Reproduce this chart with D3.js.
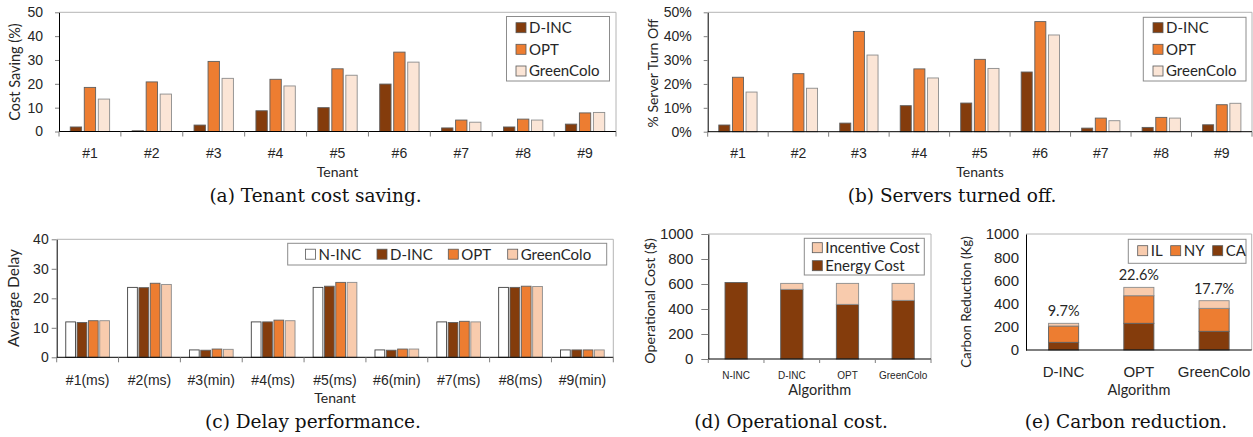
<!DOCTYPE html>
<html>
<head>
<meta charset="utf-8">
<script src="https://cdn.jsdelivr.net/npm/d3@7"></script>
<style>
  body { margin: 0; background: #fff; }
  svg { display: block; font-family: Lato, "Open Sans", sans-serif; }
</style>
</head>
<body>
<svg id="chart" width="1253" height="437"></svg>
<script>
// ---- data ----
const tenants = ['#1', '#2', '#3', '#4', '#5', '#6', '#7', '#8', '#9'];

// (a) tenant cost saving, %
const savingDinc  = [1.9, 0.3, 2.7, 8.7, 10.0, 19.9, 1.5, 1.9, 3.1];
const savingOpt   = [18.5, 20.8, 29.4, 21.9, 26.3, 33.3, 4.8, 5.2, 7.8];
const savingGreen = [13.6, 15.7, 22.3, 19.1, 23.6, 29.1, 3.9, 4.8, 8.0];

// (b) servers turned off, %
const offDinc  = [2.8, 0, 3.6, 10.9, 12.0, 25.0, 1.5, 1.8, 2.9];
const offOpt   = [22.8, 24.3, 42.0, 26.3, 30.3, 46.1, 5.7, 6.0, 11.3];
const offGreen = [16.6, 18.2, 32.1, 22.5, 26.5, 40.5, 4.6, 5.7, 11.9];

// (c) average delay
const delayTenants = ['#1(ms)', '#2(ms)', '#3(min)', '#4(ms)', '#5(ms)', '#6(min)', '#7(ms)', '#8(ms)', '#9(min)'];
const delayNinc  = [12.0, 23.7, 2.5, 12.0, 23.7, 2.5, 12.0, 23.7, 2.5];
const delayDinc  = [11.8, 23.6, 2.4, 12.0, 24.1, 2.4, 11.8, 23.7, 2.5];
const delayOpt   = [12.4, 25.1, 2.8, 12.6, 25.4, 2.8, 12.2, 24.1, 2.5];
const delayGreen = [12.4, 24.7, 2.7, 12.4, 25.4, 2.8, 12.0, 24.0, 2.5];

// (d) operational cost, $
const costAlgos = ['N-INC', 'D-INC', 'OPT', 'GreenColo'];
const energyCost    = [612, 557, 437, 469];
const incentiveCost = [0, 48, 168, 136];

// (e) carbon reduction, kg
const carbonAlgos = ['D-INC', 'OPT', 'GreenColo'];
const carbonCA = [66, 230, 161];
const carbonNY = [141, 238, 198];
const carbonIL = [23, 72, 66];
const carbonPct = ['9.7%', '22.6%', '17.7%'];

const DARK = '#843C0C', ORANGE = '#ED7D31', PALE = '#FBE5D6', PEACH = '#F8CBAD';
const TXT = '#262626', BAR_STROKE = '#5f5f5f';

const svg = d3.select('#chart');

function plotFrame(left, right, top, bottom) {
  svg.append('path')
    .attr('d', `M${left},${top}H${right}V${bottom}`)
    .attr('fill', 'none')
    .attr('stroke', '#b4b4b4')
    .attr('stroke-width', 1);
}

function yAxis(y, left, ticks, o) {
  const g = svg.append('g')
    .attr('transform', `translate(${left},0)`)
    .call(d3.axisLeft(y).tickValues(ticks).tickSizeInner(o.tick).tickSizeOuter(0)
      .tickPadding(o.pad).tickFormat(o.fmt || (d => d)));
  g.select('.domain').attr('stroke', '#000');
  g.selectAll('.tick line').attr('stroke', '#7f7f7f');
  g.selectAll('text').attr('font-size', o.font).attr('fill', TXT).attr('font-family', null);
}

function xLabels(x, bottom, o) {
  const g = svg.append('g')
    .attr('transform', `translate(0,${bottom})`)
    .call(d3.axisBottom(x).tickSize(0).tickPadding(o.pad));
  g.select('.domain').remove();
  g.selectAll('text').attr('font-size', o.font).attr('fill', TXT).attr('font-family', null);
}

function axisLineBottom(left, right, bottom, x, tickLen) {
  svg.append('line')
    .attr('x1', left).attr('x2', right).attr('y1', bottom).attr('y2', bottom)
    .attr('stroke', '#000');
  if (tickLen > 0) {
    svg.append('g').selectAll('line')
      .data(d3.range(x.domain().length + 1))
      .join('line')
      .attr('x1', i => left + i * x.step()).attr('x2', i => left + i * x.step())
      .attr('y1', bottom).attr('y2', bottom + tickLen)
      .attr('stroke', '#7f7f7f');
  }
}

function title(text, x, y, size, rotate) {
  svg.append('text')
    .attr('transform', `translate(${x},${y})` + (rotate ? ' rotate(-90)' : ''))
    .attr('text-anchor', 'middle')
    .attr('dy', rotate ? '0.35em' : 0)
    .attr('font-size', size)
    .attr('fill', TXT)
    .text(text);
}

function caption(text, x, y) {
  svg.append('text')
    .attr('x', x).attr('y', y)
    .attr('text-anchor', 'middle')
    .attr('font-family', '"DejaVu Serif", serif')
    .attr('font-size', 18.5)
    .attr('fill', '#111')
    .text(text);
}

function legend(box, items, font) {
  svg.append('rect')
    .attr('x', box.x).attr('y', box.y).attr('width', box.w).attr('height', box.h)
    .attr('fill', '#fff').attr('stroke', '#8c8c8c');
  const g = svg.append('g').selectAll('g').data(items).join('g')
    .attr('transform', d => `translate(${d.x},${d.y})`);
  g.append('rect')
    .attr('x', 0).attr('y', -5).attr('width', 10).attr('height', 10)
    .attr('fill', d => d.color).attr('stroke', '#595959').attr('stroke-width', 0.8);
  g.append('text')
    .attr('x', 13).attr('dy', '0.36em')
    .attr('font-size', font).attr('fill', TXT)
    .text(d => d.label);
}

function drawGrouped(cfg) {
  const x = d3.scaleBand().domain(cfg.cats).range([cfg.left, cfg.right]);
  const groupW = x.step() * cfg.groupFrac;
  const sub = d3.scaleBand().domain(cfg.series.map(s => s.name))
    .range([-groupW / 2, groupW / 2]).paddingInner(cfg.gap);
  const y = d3.scaleLinear().domain([0, cfg.yMax]).range([cfg.bottom, cfg.top]);

  plotFrame(cfg.left, cfg.right, cfg.top, cfg.bottom);

  cfg.series.forEach(s => {
    svg.append('g').selectAll('rect')
      .data(s.values.map((v, i) => ({ cat: cfg.cats[i], v })))
      .join('rect')
      .attr('x', d => x(d.cat) + x.bandwidth() / 2 + sub(s.name))
      .attr('width', sub.bandwidth())
      .attr('y', d => y(d.v))
      .attr('height', d => y(0) - y(d.v))
      .attr('fill', s.color)
      .attr('stroke', s.stroke || BAR_STROKE)
      .attr('stroke-width', 0.9);
  });

  yAxis(y, cfg.left, d3.range(0, cfg.yMax + 1e-9, cfg.yStep), cfg.yAxis);
  axisLineBottom(cfg.left, cfg.right, cfg.bottom, x, 5);
  xLabels(x, cfg.bottom, cfg.xAxis);
  return { x, y };
}

function drawStacked(cfg) {
  const x = d3.scaleBand().domain(cfg.cats).range([cfg.left, cfg.right])
    .paddingInner(0.6).paddingOuter(0.3);
  const y = d3.scaleLinear().domain([0, cfg.yMax]).range([cfg.bottom, cfg.top]);
  const rows = cfg.cats.map((c, i) => {
    const r = { cat: c };
    cfg.layers.forEach(l => { r[l.name] = l.values[i]; });
    return r;
  });
  const stack = d3.stack().keys(cfg.layers.map(l => l.name))(rows);

  plotFrame(cfg.left, cfg.right, cfg.top, cfg.bottom);

  stack.forEach((layer, li) => {
    svg.append('g').selectAll('rect')
      .data(layer.filter(d => d[1] - d[0] > 0))
      .join('rect')
      .attr('x', d => x(d.data.cat))
      .attr('width', x.bandwidth())
      .attr('y', d => y(d[1]))
      .attr('height', d => y(d[0]) - y(d[1]))
      .attr('fill', cfg.layers[li].color)
      .attr('stroke', cfg.layers[li].stroke || BAR_STROKE)
      .attr('stroke-width', 0.9);
  });

  yAxis(y, cfg.left, d3.range(0, cfg.yMax + 1e-9, cfg.yStep), cfg.yAxis);
  axisLineBottom(cfg.left, cfg.right, cfg.bottom, d3.scaleBand().domain(cfg.cats).range([cfg.left, cfg.right]), cfg.xTick);
  xLabels(x, cfg.bottom, cfg.xAxis);
  return { x, y, stack };
}

// (a) Tenant cost saving
drawGrouped({
  cats: tenants, left: 59, right: 616, top: 12.3, bottom: 131.5,
  yMax: 50, yStep: 10, groupFrac: 0.636, gap: 0.19,
  series: [
    { name: 'D-INC', values: savingDinc, color: DARK },
    { name: 'OPT', values: savingOpt, color: ORANGE },
    { name: 'GreenColo', values: savingGreen, color: PALE, stroke: '#8c8c8c' }
  ],
  yAxis: { tick: 4, pad: 12, font: 14 },
  xAxis: { pad: 16.5, font: 14 }
});
title('Cost Saving (%)', 15, 72, 14.5, true);
title('Tenant', 337.5, 177, 14);
legend({ x: 506.5, y: 16.5, w: 103, h: 64.5 }, [
  { label: 'D-INC', color: DARK, x: 516, y: 27.7 },
  { label: 'OPT', color: ORANGE, x: 516, y: 49.3 },
  { label: 'GreenColo', color: PALE, x: 516, y: 71 }
], 15);
caption('(a)  Tenant cost saving.', 315.5, 202);

// (b) Servers turned off
drawGrouped({
  cats: tenants, left: 707.7, right: 1252, top: 12.3, bottom: 131.7,
  yMax: 50, yStep: 10, groupFrac: 0.633, gap: 0.19,
  series: [
    { name: 'D-INC', values: offDinc, color: DARK },
    { name: 'OPT', values: offOpt, color: ORANGE },
    { name: 'GreenColo', values: offGreen, color: PALE, stroke: '#8c8c8c' }
  ],
  yAxis: { tick: 4, pad: 12, font: 14, fmt: d => d + '%' },
  xAxis: { pad: 16, font: 14 }
});
title('% Server Turn Off', 653, 73, 14, true);
title('Tenants', 980, 177, 14);
legend({ x: 1143.3, y: 17.3, w: 102.7, h: 63.7 }, [
  { label: 'D-INC', color: DARK, x: 1153, y: 27.7 },
  { label: 'OPT', color: ORANGE, x: 1153, y: 49.3 },
  { label: 'GreenColo', color: PALE, x: 1153, y: 71 }
], 15);
caption('(b)  Servers turned off.', 952, 202);

// (c) Delay performance
drawGrouped({
  cats: delayTenants, left: 56.7, right: 613.3, top: 239.3, bottom: 357.3,
  yMax: 40, yStep: 10, groupFrac: 0.707, gap: 0.14,
  series: [
    { name: 'N-INC', values: delayNinc, color: '#fff', stroke: '#404040' },
    { name: 'D-INC', values: delayDinc, color: DARK },
    { name: 'OPT', values: delayOpt, color: ORANGE },
    { name: 'GreenColo', values: delayGreen, color: PEACH, stroke: '#8c8c8c' }
  ],
  yAxis: { tick: 5, pad: 3, font: 14 },
  xAxis: { pad: 18, font: 14 }
});
title('Average Delay', 13.5, 298, 15.5, true);
title('Tenant', 335, 403, 14);
legend({ x: 287.7, y: 243.3, w: 319, h: 21.7 }, [
  { label: 'N-INC', color: '#fff', x: 305.5, y: 254.2 },
  { label: 'D-INC', color: DARK, x: 377, y: 254.2 },
  { label: 'OPT', color: ORANGE, x: 448.3, y: 254.2 },
  { label: 'GreenColo', color: PEACH, x: 507.7, y: 254.2 }
], 15);
caption('(c)  Delay performance.', 313, 428);

// (d) Operational cost
drawStacked({
  cats: costAlgos, left: 708.3, right: 931, top: 234, bottom: 359,
  yMax: 1000, yStep: 200, xTick: 4,
  layers: [
    { name: 'Energy Cost', values: energyCost, color: DARK },
    { name: 'Incentive Cost', values: incentiveCost, color: PEACH, stroke: '#8c8c8c' }
  ],
  yAxis: { tick: 7, pad: 8, font: 15 },
  xAxis: { pad: 12.5, font: 10 }
});
title('Operational Cost ($)', 650, 301, 14.2, true);
title('Algorithm', 819.7, 395, 14.5);
legend({ x: 804.3, y: 238.3, w: 120, h: 36.7 }, [
  { label: 'Incentive Cost', color: PEACH, x: 812.3, y: 247.7 },
  { label: 'Energy Cost', color: DARK, x: 812.3, y: 265.7 }
], 15);
caption('(d)  Operational cost.', 791, 428);

// (e) Carbon reduction
const carbon = drawStacked({
  cats: carbonAlgos, left: 1026, right: 1251.7, top: 234, bottom: 350,
  yMax: 1000, yStep: 200, xTick: 0,
  layers: [
    { name: 'CA', values: carbonCA, color: DARK },
    { name: 'NY', values: carbonNY, color: ORANGE },
    { name: 'IL', values: carbonIL, color: PEACH, stroke: '#8c8c8c' }
  ],
  yAxis: { tick: 0, pad: 7, font: 15 },
  xAxis: { pad: 16, font: 15 }
});
const topLayer = carbon.stack[carbon.stack.length - 1];
svg.append('g').selectAll('text')
  .data(topLayer)
  .join('text')
  .attr('x', d => carbon.x(d.data.cat) + carbon.x.bandwidth() / 2)
  .attr('y', d => carbon.y(d[1]) - 7)
  .attr('text-anchor', 'middle')
  .attr('font-size', 14.5)
  .attr('fill', TXT)
  .text((d, i) => carbonPct[i]);
title('Carbon Reduction (Kg)', 966.7, 302, 13.3, true);
title('Algorithm', 1138.9, 395, 14.5);
legend({ x: 1128.3, y: 239.3, w: 117.7, h: 24 }, [
  { label: 'IL', color: PEACH, x: 1137.7, y: 250.7 },
  { label: 'NY', color: ORANGE, x: 1170.7, y: 250.7 },
  { label: 'CA', color: DARK, x: 1212.7, y: 250.7 }
], 15);
caption('(e)  Carbon reduction.', 1126, 428);
</script>
</body>
</html>
